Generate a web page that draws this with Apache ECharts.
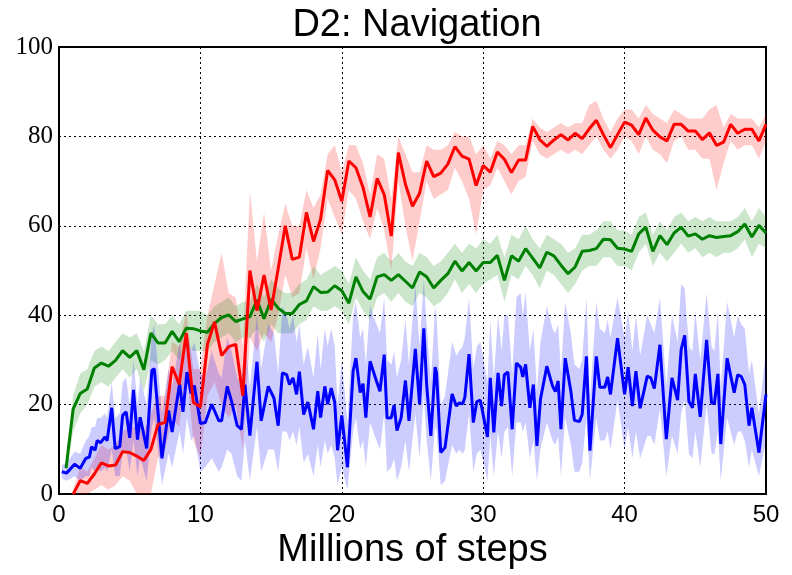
<!DOCTYPE html>
<html>
<head>
<meta charset="utf-8">
<title>D2: Navigation</title>
<script src="https://cdn.jsdelivr.net/npm/echarts@6/dist/echarts.min.js"></script>
<style>
  html, body { margin: 0; padding: 0; background: #fff; }
  #chart { width: 792px; height: 575px; }
</style>
</head>
<body>
<div id="chart"></div>
<script>
// 红线：x 从 1.0 开始，步长 0.5
var redStart = 1.0, redStep = 0.5;
var redMean = [0, 3, 2.4, 4.5, 7, 6.3, 6.5, 9.5, 9.3, 8.5,
  7.5, 10, 15.6, 16, 28.5, 24.5, 36, 20.5, 19.5, 33.5,
  38.5, 31, 33, 33.5, 22, 50, 41, 49, 41.2, 50.4,
  60, 52.5, 53, 63, 56.5, 61.5, 72.4, 70.3, 65.5, 74.5,
  73, 68.6, 62, 70.6, 67, 57.7, 76.4, 69.3, 64.4, 67.3,
  74.5, 71, 71.8, 73.8, 77.7, 75.6, 74.9, 69, 73.5, 72,
  76.5, 74.9, 71.9, 74.7, 74.7, 82.2, 79.3, 77.8, 79.2, 80.4,
  79.2, 80.7, 79.5, 81.7, 83.6, 80.4, 77.5, 80.4, 83.2, 82.5,
  80.4, 84.1, 81.4, 79.9, 79, 82.7, 82.7, 81.2, 81.2, 79.3,
  80.8, 78, 78.7, 82.7, 80.7, 81.6, 81.6, 79, 82.7];
var redLow = [0, 0, 0, 1, 2, 1, 2, 4, 3, 0,
  0, 0, 8, 10, 17, 15, 28, 12, 8, 22,
  25, 20, 17, 20, 10, 35, 32, 36, 34, 40,
  49, 44, 45, 55, 48, 55, 66, 62, 58, 68,
  66, 61, 57, 64, 59, 50, 70, 60, 52, 61,
  70, 66, 67, 68, 73, 70, 66, 58, 68, 69,
  73, 70, 67, 70, 71, 79, 76, 75, 76, 77,
  76, 77, 76, 78, 80, 77, 75, 77, 80, 79,
  76, 80, 77, 76, 74, 79, 80, 77, 77, 75,
  75, 68, 74, 79, 77, 78, 78, 75, 79];
var redHigh = [1, 6, 5, 8, 11, 10, 11, 14, 15, 15,
  14, 18, 22, 22, 34, 33, 41, 28, 28, 40,
  47, 54, 45, 44, 33, 68, 52, 63, 50, 58,
  65, 60, 60, 68, 64, 67, 76, 78, 72, 78,
  78, 74, 67, 76, 75, 66, 80, 76, 72, 72,
  78, 77, 77, 78, 81, 80, 80, 76, 78, 75,
  79, 78, 76, 78, 78, 84, 82, 81, 82, 83,
  82, 83, 83, 87, 88, 84, 81, 84, 86, 86,
  84, 87, 85, 84, 83, 86, 85, 84, 84, 84,
  86, 87, 82, 85, 84, 84, 84, 82, 85];

// 绿线：x 从 0.5 开始，步长 0.5
var greenStart = 0.5, greenStep = 0.5;
var greenMean = [5.8, 19, 22.5, 23.5, 28.2, 29.3, 28.6, 29.9, 32.1, 30.6,
  32.1, 27.8, 36, 33.8, 33.8, 36.4, 34.1, 37.1, 37, 36.5,
  36.2, 38.2, 39.5, 40.1, 38.6, 39.2, 39.7, 43.4, 39.2, 43.6,
  41.6, 40.4, 40.4, 42.4, 43.2, 46.4, 45.1, 45.2, 46.6, 45.5,
  42.7, 48.6, 45.3, 43.6, 48.6, 49.1, 47.8, 49.1, 47.6, 46.1,
  49.7, 48.6, 46.1, 47.8, 49.3, 52.1, 49.9, 51.8, 49.9, 51.8,
  51.8, 53.4, 47.8, 53.3, 52.1, 54.9, 52.8, 50.6, 54.1, 53.3,
  51.2, 49.3, 50.8, 54.3, 54.5, 54.9, 57, 56.9, 55, 54.8,
  54.3, 58.2, 59.7, 54.3, 57.8, 55.8, 58.4, 59.7, 57.7, 58.2,
  57, 57.8, 57.4, 57.6, 57.8, 58.7, 60.4, 57.5, 60.1, 58.4];
var greenLow = [4, 14, 18, 20, 24, 25, 24, 26, 28, 26,
  28, 23, 30, 29, 30, 32, 30, 33, 32, 32,
  32, 34, 35, 36, 34, 35, 35, 37, 34, 38,
  36, 36, 36, 38, 39, 42, 41, 41, 42, 41,
  38, 44, 41, 39, 44, 45, 43, 45, 43, 42,
  45, 44, 42, 43, 45, 48, 45, 47, 45, 47,
  48, 49, 43, 49, 48, 51, 49, 46, 50, 49,
  47, 45, 47, 50, 51, 51, 53, 53, 51, 51,
  50, 54, 56, 51, 54, 52, 54, 56, 54, 55,
  53, 54, 53, 54, 54, 55, 57, 53, 56, 55];
var greenHigh = [8, 22, 27, 28, 32, 33, 32, 34, 36, 35,
  36, 32, 40, 38, 38, 40, 38, 41, 41, 41,
  40, 42, 43, 44, 42, 43, 43, 47, 44, 48,
  46, 45, 45, 47, 48, 51, 49, 50, 51, 50,
  47, 53, 50, 48, 53, 54, 52, 54, 52, 51,
  54, 53, 51, 52, 54, 56, 54, 56, 55, 57,
  56, 58, 53, 58, 57, 60, 57, 55, 58, 57,
  56, 54, 55, 58, 58, 59, 61, 61, 59, 59,
  58, 62, 63, 58, 61, 59, 62, 63, 61, 62,
  61, 62, 61, 61, 61, 62, 64, 61, 64, 62];

// 蓝线：采样点不等距
var blueX = [0.2, 0.55, 1.1, 1.5, 1.9, 2.15, 2.3, 2.55, 2.7, 2.95,
  3.25, 3.4, 3.73, 3.97, 4.3, 4.5, 4.75, 5.0, 5.27, 5.55,
  5.74, 6.2, 6.57, 6.74, 7.28, 7.75, 8.0, 8.53, 8.77, 9.05,
  9.34, 9.57, 10.0, 10.35, 10.8, 11.3, 11.5, 11.9, 12.2, 12.6,
  12.9, 13.15, 13.5, 14.0, 14.3, 14.8, 15.2, 15.5, 15.8, 16.1,
  16.3, 16.55, 16.8, 17.0, 17.3, 17.6, 18.0, 18.3, 18.5, 18.8,
  19.0, 19.25, 19.5, 19.7, 20.0, 20.4, 20.8, 21.0, 21.3, 21.5,
  21.7, 22.0, 22.45, 22.7, 23.0, 23.2, 23.5, 23.7, 23.9, 24.2,
  24.5, 24.75, 25.2, 25.5, 25.8, 26.0, 26.3, 26.6, 26.7, 27.0,
  27.3, 27.8, 28.1, 28.3, 28.55, 28.7, 29.0, 29.3, 29.55, 29.8,
  30.3, 30.5, 30.75, 31.05, 31.3, 31.5, 31.75, 32.05, 32.35, 32.65,
  32.8, 33.0, 33.3, 33.55, 33.8, 34.05, 34.5, 34.9, 35.1, 35.3,
  35.5, 35.8, 36.2, 36.45, 36.8, 37.0, 37.3, 37.55, 38.0, 38.25,
  38.6, 38.8, 39.0, 39.5, 40.0, 40.25, 40.55, 40.8, 41.1, 41.6,
  41.85, 42.1, 42.5, 42.95, 43.35, 43.75, 44.0, 44.25, 44.55, 44.8,
  45.0, 45.35, 45.8, 46.15, 46.35, 46.6, 46.8, 47.25, 47.75, 48.0,
  48.25, 48.5, 48.8, 49.0, 49.5, 50.0];
var blueMean = [5.0, 4.7, 6.7, 5.8, 8, 8.3, 10.6, 9.8, 12, 11.5,
  12.8, 11.9, 19.3, 10.2, 10.6, 17.6, 18.4, 12.6, 23.3, 12.2,
  17.2, 10.2, 27.7, 28, 8.0, 18.7, 13.9, 24.7, 18.4, 27.3,
  22.5, 24.3, 15.8, 16, 20.1, 16.4, 16.4, 24.1, 20.8, 15.3,
  14.5, 24.5, 13.1, 29.6, 16.4, 24.1, 21.5, 15.3, 27.1, 26.7,
  24.5, 26, 22.3, 27.4, 17.8, 20.6, 14.5, 23, 17.1, 24.1,
  20.1, 23.7, 20.5, 9.8, 17.6, 6, 27.5, 30.4, 22.7, 24.7,
  17.1, 29.7, 25.3, 23, 31.2, 17, 17.1, 19.9, 14.2, 17.1,
  25.4, 16.4, 32.5, 20.1, 37.1, 24.5, 13, 28.4, 27.1, 9.3,
  10.4, 22.4, 19.7, 20.4, 20.2, 21.6, 31.3, 16, 20.7, 21,
  12.8, 26, 13.8, 27.1, 19.7, 26.7, 27.3, 14.5, 29.3, 28.4,
  26.2, 29, 19.3, 24.5, 10.8, 21.2, 28.6, 24.2, 22.9, 25.3,
  14.5, 30.4, 23, 16.5, 16.2, 17.8, 30.8, 9.7, 30.8, 23.9,
  23.9, 26.2, 22.3, 34.9, 22.3, 28.4, 19.7, 27.5, 19.2, 26.4,
  26, 23.6, 33.4, 12.3, 26, 21, 32.3, 35.5, 20.7, 19.3,
  26.9, 17.3, 34.5, 20.4, 20.2, 26.9, 11.2, 30.4, 22.7, 26.7,
  26.3, 24.5, 15.3, 19.3, 9.3, 22.3];
var blueLow = [3.5, 3, 4, 3, 4, 4, 6, 5, 6, 5,
  6, 5, 10, 4, 4, 9, 10, 5, 12, 4,
  8, 3, 15, 17, 2, 9, 6, 14, 9, 17,
  12, 13, 5, 6, 8, 5, 6, 10, 9, 4,
  3, 12, 3, 15, 5, 10, 10, 5, 14, 14,
  12, 14, 11, 15, 7, 9, 4, 11, 6, 12,
  9, 11, 8, 2, 6, 1, 14, 17, 10, 12,
  6, 16, 12, 10, 18, 5, 6, 8, 3, 6,
  12, 5, 18, 8, 22, 12, 3, 15, 14, 2,
  3, 11, 9, 10, 9, 10, 18, 5, 9, 10,
  3, 13, 4, 14, 8, 14, 15, 4, 16, 16,
  14, 16, 8, 12, 3, 10, 16, 12, 11, 13,
  4, 17, 11, 5, 5, 7, 17, 3, 17, 12,
  12, 14, 10, 21, 10, 15, 8, 14, 8, 13,
  13, 11, 19, 4, 13, 9, 18, 21, 9, 8,
  14, 6, 20, 9, 9, 14, 3, 17, 11, 14,
  14, 12, 6, 10, 4, 12];
var blueHigh = [6.5, 7, 9.5, 9, 12, 13, 15, 15, 17, 17,
  18, 17, 25, 17, 18, 25, 26, 20, 30, 20,
  26, 20, 36, 38, 18, 28, 24, 34, 28, 36,
  32, 34, 27, 26, 32, 27, 26, 35, 32, 26,
  25, 35, 24, 40, 28, 38, 36, 27, 42, 40,
  37, 40, 34, 38, 29, 33, 26, 36, 28, 37,
  33, 37, 33, 20, 30, 16, 40, 43, 35, 37,
  29, 42, 38, 36, 44, 30, 29, 32, 26, 30,
  39, 29, 47, 33, 48, 38, 25, 42, 40, 20,
  22, 34, 31, 32, 33, 35, 44, 28, 33, 34,
  25, 39, 26, 40, 32, 40, 40, 27, 44, 45,
  40, 45, 32, 37, 23, 34, 42, 37, 36, 38,
  27, 43, 36, 29, 28, 30, 44, 21, 43, 37,
  36, 39, 35, 44, 35, 41, 32, 40, 31, 40,
  38, 36, 44, 24, 40, 34, 47, 46, 33, 32,
  41, 30, 45, 33, 32, 41, 24, 43, 35, 40,
  38, 37, 27, 30, 18, 32];

var xTicks = [0, 10, 20, 30, 40, 50];
var yTicks = [0, 20, 40, 60, 80, 100];

function stepX(start, step, n) {
  var xs = [];
  for (var i = 0; i < n; i++) xs.push(start + i * step);
  return xs;
}
function pairs(xs, ys) {
  return xs.map(function (x, i) { return [x, ys[i]]; });
}

var redX = stepX(redStart, redStep, redMean.length);
var greenX = stepX(greenStart, greenStep, greenMean.length);

// 误差带：用 custom series 画多边形
function band(xs, lo, hi, color) {
  return {
    type: 'custom',
    silent: true,
    z: 1,
    data: [[xs[0], lo[0]]],
    renderItem: function (params, api) {
      var pts = [];
      for (var i = 0; i < xs.length; i++) pts.push(api.coord([xs[i], hi[i]]));
      for (var j = xs.length - 1; j >= 0; j--) pts.push(api.coord([xs[j], lo[j]]));
      return { type: 'polygon', shape: { points: pts }, style: { fill: color } };
    }
  };
}
function line(xs, ys, color) {
  return {
    type: 'line',
    z: 2,
    showSymbol: false,
    silent: true,
    data: pairs(xs, ys),
    lineStyle: { color: color, width: 3 },
    itemStyle: { color: color }
  };
}

var myChart = echarts.init(document.getElementById('chart'), null, { renderer: 'canvas' });
var option = {
  animation: false,
  backgroundColor: '#fff',
  title: {
    text: 'D2: Navigation',
    left: 412,
    top: 2,
    textAlign: 'center',
    textStyle: { fontFamily: 'Liberation Sans', fontWeight: 'normal', fontSize: 38, color: '#000' }
  },
  grid: { left: 59, right: 26, top: 47, bottom: 78, show: true, borderColor: '#000', borderWidth: 2 },
  xAxis: {
    type: 'value',
    min: xTicks[0],
    max: xTicks[xTicks.length - 1],
    interval: 10,
    name: 'Millions of steps',
    nameLocation: 'middle',
    nameGap: 33,
    nameTextStyle: { fontFamily: 'Liberation Sans', fontSize: 38, color: '#000' },
    axisLine: { show: false },
    axisTick: { show: false },
    axisLabel: { fontFamily: 'Liberation Sans', fontSize: 24, color: '#000', margin: 9 },
    splitLine: { show: true, lineStyle: { color: '#000', type: [2, 3], width: 1 } }
  },
  yAxis: {
    type: 'value',
    min: yTicks[0],
    max: yTicks[yTicks.length - 1],
    interval: 20,
    axisLine: { show: false },
    axisTick: { show: false },
    axisLabel: { fontFamily: 'Liberation Serif', fontSize: 25, color: '#000', margin: 6 },
    splitLine: { show: true, lineStyle: { color: '#000', type: [2, 3], width: 1 } }
  },
  series: [
    band(redX, redLow, redHigh, 'rgba(255,0,0,0.2)'),
    band(greenX, greenLow, greenHigh, 'rgba(0,128,0,0.2)'),
    band(blueX, blueLow, blueHigh, 'rgba(0,0,255,0.2)'),
    line(blueX, blueMean, '#0000ff'),
    line(greenX, greenMean, '#008000'),
    line(redX, redMean, '#ff0000')
  ]
};
myChart.setOption(option);
</script>
</body>
</html>
